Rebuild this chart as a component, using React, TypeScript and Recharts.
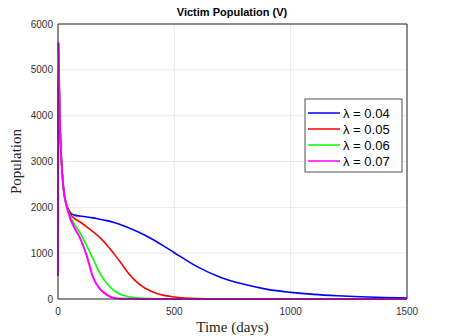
import React from 'react';
import { LineChart, Line, XAxis, YAxis, CartesianGrid, ReferenceLine, Customized } from 'recharts';

const time = [0, 2, 5, 8, 12, 18, 25, 35, 45, 55, 70, 95, 125, 150, 180, 210, 240, 270, 300, 350, 400, 450, 500, 600, 700, 800, 900, 1000, 1100, 1200, 1300, 1400, 1500];
const v004 = [500, 5600, 4700, 3900, 3300, 2750, 2350, 2080, 1950, 1870, 1830, 1810, 1790, 1770, 1740, 1710, 1670, 1620, 1560, 1450, 1320, 1170, 1010, 700, 470, 320, 210, 145, 100, 70, 48, 33, 22];
const v005 = [500, 5600, 4700, 3900, 3300, 2750, 2350, 2080, 1930, 1840, 1760, 1680, 1570, 1470, 1340, 1180, 990, 790, 580, 320, 170, 85, 45, 12, 4, 2, 1, 0, 0, 0, 0, 0, 0];
const v006 = [500, 5600, 4700, 3900, 3300, 2750, 2350, 2080, 1900, 1780, 1640, 1440, 1150, 880, 565, 340, 190, 100, 55, 20, 8, 3, 1, 0, 0, 0, 0, 0, 0, 0, 0, 0, 0];
const v007 = [500, 5600, 4700, 3900, 3300, 2750, 2350, 2060, 1880, 1720, 1560, 1330, 920, 480, 220, 90, 25, 8, 3, 1, 0, 0, 0, 0, 0, 0, 0, 0, 0, 0, 0, 0, 0];
const xTicks = [0, 500, 1000, 1500];
const yTicks = [0, 1000, 2000, 3000, 4000, 5000, 6000];
const seriesNames = ['λ = 0.04', 'λ = 0.05', 'λ = 0.06', 'λ = 0.07'];
const seriesColors = ['#0000ff', '#ff0000', '#00ff00', '#ff00ff'];
const title = 'Victim Population (V)';
const xLabel = 'Time (days)';
const yLabel = 'Population';

const data = time.map((t, i) => ({ t, a: v004[i], b: v005[i], c: v006[i], d: v007[i] }));
const keys = ['a', 'b', 'c', 'd'];

const Title = () => (
  <text x={232} y={16} textAnchor="middle" fontFamily="Liberation Sans, Arial, sans-serif" fontWeight="bold" fontSize={11} fill="#000">
    {title}
  </text>
);

const LegendBox = () => (
  <g>
    <rect x={305} y={99} width={97} height={73} fill="#fff" stroke="#262626" strokeWidth={0.8} />
    {seriesNames.map((n, i) => (
      <g key={n}>
        <line x1={308} x2={340} y1={113 + i * 16} y2={113 + i * 16} stroke={seriesColors[i]} strokeWidth={1.5} />
        <text x={343} y={113 + i * 16 + 4.5} fontFamily="Liberation Sans, Arial, sans-serif" fontSize={13} fill="#000">
          {n}
        </text>
      </g>
    ))}
  </g>
);

export default function App() {
  return (
    <div style={{ position: 'absolute', left: 0, top: 0, background: '#fff' }}>
      <LineChart width={449} height={336} data={data} margin={{ top: 24, right: 42, bottom: 0, left: 0 }}>
        <CartesianGrid stroke="#e3e3e3" strokeWidth={0.8} />
        <XAxis
          dataKey="t"
          type="number"
          domain={[0, 1500]}
          ticks={xTicks}
          height={37}
          tickLine={false}
          tickSize={5}
          tickMargin={4}
          axisLine={{ stroke: '#262626' }}
          tick={{ fill: '#333', fontSize: 10, fontFamily: 'Liberation Sans, Arial, sans-serif' }}
          label={{ value: xLabel, position: 'insideBottom', offset: 4, style: { fontFamily: 'Liberation Serif, Times New Roman, serif', fontSize: 15, fill: '#262626' } }}
        />
        <YAxis
          type="number"
          domain={[0, 6000]}
          ticks={yTicks}
          width={58}
          tickLine={false}
          tickSize={4}
          tickMargin={1}
          axisLine={{ stroke: '#262626' }}
          tick={{ fill: '#333', fontSize: 10, fontFamily: 'Liberation Sans, Arial, sans-serif' }}
          label={{ value: yLabel, position: 'insideLeft', angle: -90, offset: 16, style: { textAnchor: 'middle', fontFamily: 'Liberation Serif, Times New Roman, serif', fontSize: 15, fill: '#262626' } }}
        />
        <ReferenceLine y={6000} stroke="#262626" strokeWidth={1} />
        <ReferenceLine x={1500} stroke="#262626" strokeWidth={1} />
        {keys.map((k, i) => (
          <Line key={k} dataKey={k} type="monotone" stroke={seriesColors[i]} strokeWidth={i === 3 ? 2 : 1.6} dot={false} isAnimationActive={false} />
        ))}
        <Customized component={Title} />
        <Customized component={LegendBox} />
      </LineChart>
    </div>
  );
}
